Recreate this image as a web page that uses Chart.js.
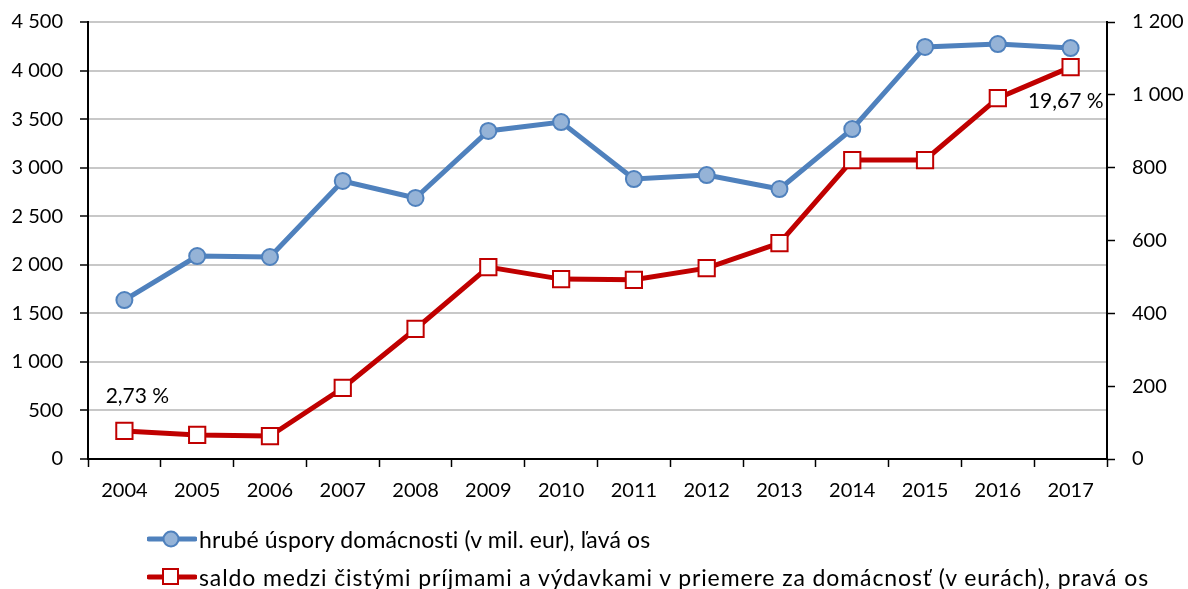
<!DOCTYPE html>
<html><head><meta charset="utf-8">
<script src="https://cdn.jsdelivr.net/npm/chart.js@4.4.1/dist/chart.umd.min.js"></script>
<style>
html,body{margin:0;padding:0;background:#fff;}
#wrap{position:relative;width:1188px;height:589px;}
canvas{position:absolute;left:0;top:0;}
.leg{position:absolute;left:147px;font-family:Lato,"Noto Sans",sans-serif;font-size:23px;color:#000;white-space:nowrap;display:flex;align-items:center;}
.leg svg{margin-right:2px;}
#l1{letter-spacing:0.15px;}
#l2{letter-spacing:0.9px;}
</style></head>
<body><div id="wrap"><canvas id="c" width="1188" height="589"></canvas>
<div class="leg" style="top:525px"><svg width="50" height="20"><line x1="2" y1="10" x2="48" y2="10" stroke="#4f81bd" stroke-width="5" stroke-linecap="round"/><circle cx="24" cy="10" r="7.5" fill="#95b3d7" stroke="#4f81bd" stroke-width="2"/></svg><span id="l1"></span></div>
<div class="leg" style="top:563px"><svg width="50" height="20"><line x1="2" y1="10" x2="48" y2="10" stroke="#c00000" stroke-width="5" stroke-linecap="round"/><rect x="16" y="2" width="15" height="15" fill="#fff" stroke="#c00000" stroke-width="2"/></svg><span id="l2"></span></div>
</div>
<script>
const categories = ["2004","2005","2006","2007","2008","2009","2010","2011","2012","2013","2014","2015","2016","2017"];
const savings = [1637,2090,2080,2863,2688,3378,3470,2883,2924,2780,3398,4243,4273,4232];
const balance = [77,66,63,195,357,527,494,492,524,593,821,821,991,1076];
const seriesNames = ["hrubé úspory domácnosti (v mil. eur), ľavá os","saldo medzi čistými príjmami a výdavkami v priemere za domácnosť (v eurách), pravá os"];
const pointLabels = [{index:0,text:"2,73 %"},{index:13,text:"19,67 %"}];

document.getElementById('l1').textContent = seriesNames[0];
document.getElementById('l2').textContent = seriesNames[1];

const FONT = "Lato, 'Noto Sans', sans-serif";
const fmt = v => { const s = Math.round(v).toString(); return s.replace(/\B(?=(\d{3})+(?!\d))/g, ' '); };

const labelPlugin = {
  id:'ptlabels',
  afterDatasetsDraw(chart){
    const ctx = chart.ctx;
    const meta = chart.getDatasetMeta(1);
    ctx.save();
    ctx.font = "21px " + FONT;
    ctx.fillStyle = "#000";
    pointLabels.forEach(pl => {
      const p = meta.data[pl.index];
      if (pl.index === 0) { ctx.textAlign='center'; ctx.textBaseline='middle'; ctx.fillText(pl.text, p.x+13, p.y-35); }
      else { ctx.textAlign='right'; ctx.textBaseline='middle'; ctx.fillText(pl.text, p.x+33, p.y+34); }
    });
    ctx.restore();
  }
};

function fitV(w){ return s => { s.width = w; s.paddingTop = 0; s.paddingBottom = 0; }; }

new Chart(document.getElementById('c'), {
  type:'line',
  data:{
    labels: categories,
    datasets:[
      {label:seriesNames[0], data:savings, yAxisID:'y', borderColor:'#4f81bd', borderWidth:5, backgroundColor:'#95b3d7',
       pointStyle:'circle', pointRadius:8, pointBorderWidth:2, pointBorderColor:'#4f81bd', pointBackgroundColor:'#95b3d7', tension:0},
      {label:seriesNames[1], data:balance, yAxisID:'y1', borderColor:'#c00000', borderWidth:5, backgroundColor:'#fff',
       pointStyle:'rect', pointRadius:11.5, pointBorderWidth:2, pointBorderColor:'#c00000', pointBackgroundColor:'#fff', tension:0}
    ]
  },
  options:{
    responsive:false, animation:false,
    layout:{padding:{top:22,left:0,right:0,bottom:0}},
    plugins:{legend:{display:false}, tooltip:{enabled:false}},
    scales:{
      x:{offset:true,
         grid:{display:true, drawOnChartArea:false, tickLength:8, tickColor:'#000', tickWidth:1.5, offset:true},
         border:{display:true,color:'#000',width:2},
         ticks:{font:{family:FONT,size:20}, color:'#000', padding:12, maxRotation:0},
         afterFit(s){ s.height = 130; s.paddingLeft = 0; s.paddingRight = 0; }},
      y:{position:'left', min:0, max:4500,
         grid:{color:'#c8c8c8', lineWidth:2, tickLength:8, tickColor:'#000', tickWidth:1.5},
         border:{display:true,color:'#000',width:2},
         ticks:{stepSize:500, font:{family:FONT,size:20}, color:'#000', padding:17, callback:v=>fmt(v)},
         afterFit: fitV(88)},
      y1:{position:'right', min:0, max:1200,
         grid:{drawOnChartArea:false, tickLength:8, tickColor:'#000', tickWidth:1.5},
         border:{display:true,color:'#000',width:2},
         ticks:{stepSize:200, font:{family:FONT,size:20}, color:'#000', padding:17, callback:v=>fmt(v)},
         afterFit: fitV(81)}
    }
  },
  plugins:[labelPlugin]
});
</script></body></html>
